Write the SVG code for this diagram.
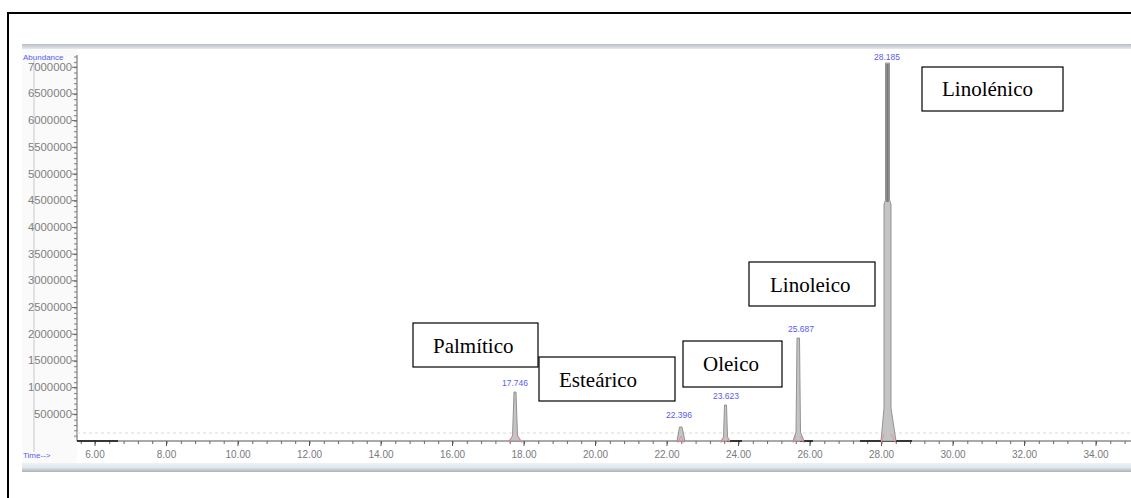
<svg xmlns="http://www.w3.org/2000/svg" width="1131" height="498" viewBox="0 0 1131 498">
<defs>
<style>
.ylab{font-family:"Liberation Sans",Arial,sans-serif;font-size:10px;fill:#808080;text-anchor:end}
.xlab{font-family:"Liberation Sans",Arial,sans-serif;font-size:10px;fill:#7a7a7a;text-anchor:middle}
.plab{font-family:"Liberation Sans",Arial,sans-serif;font-size:8.5px;fill:#5b5bf0;text-anchor:middle}
.blue{font-family:"Liberation Sans",Arial,sans-serif;font-size:8px;fill:#5b5bf0}
.box rect{fill:#fff;stroke:#000;stroke-width:1.2}
.box text{font-family:"Liberation Serif","Times New Roman",serif;font-size:21px;fill:#000}
.peak{fill:#c4c4c4;stroke:#8a8a8a;stroke-width:0.9}
.integ{fill:none;stroke:#f08a9a;stroke-width:0.9}
</style>
<pattern id="xminor" patternUnits="userSpaceOnUse" x="95" y="0" width="14.3" height="10">
<rect x="0" y="0" width="1" height="10" fill="#666"/>
</pattern>
<pattern id="yminor" patternUnits="userSpaceOnUse" x="0" y="441" width="10" height="5.34">
<rect x="0" y="0" width="10" height="1" fill="#777"/>
</pattern>
<linearGradient id="topbar" x1="0" y1="0" x2="0" y2="1">
<stop offset="0" stop-color="#b9bec4"/>
<stop offset="1" stop-color="#e6e9ec"/>
</linearGradient>
<linearGradient id="botbar" x1="0" y1="0" x2="0" y2="1">
<stop offset="0" stop-color="#eef2f6"/>
<stop offset="0.5" stop-color="#dfe6ec"/>
<stop offset="1" stop-color="#a9b1b9"/>
</linearGradient>
</defs>

<!-- outer frame -->
<path d="M8,498 V13 H1131" fill="none" stroke="#000" stroke-width="2"/>

<g id="chart">
<rect x="22" y="49" width="1109" height="418" fill="#fff"/>
<rect x="22" y="49" width="55" height="418" fill="#fafafa"/>
<rect x="22" y="44" width="1109" height="5" fill="url(#topbar)"/>
<rect x="22" y="463" width="1109" height="9" fill="url(#botbar)"/>

<line x1="34" y1="60" x2="34" y2="452" stroke="#c8c8c8" stroke-width="1"/>

<!-- Y axis -->
<line x1="77" y1="55" x2="77" y2="441" stroke="#666" stroke-width="1"/>
<rect x="74" y="55" width="3" height="386" fill="url(#yminor)"/>
<path d="M72,67.2 H77 M72,93.9 H77 M72,120.6 H77 M72,147.3 H77 M72,174 H77 M72,200.7 H77 M72,227.4 H77 M72,254.1 H77 M72,280.8 H77 M72,307.5 H77 M72,334.2 H77 M72,360.9 H77 M72,387.6 H77 M72,414.3 H77" stroke="#666" stroke-width="1"/>
<text class="ylab" x="72" y="70.7" textLength="44" lengthAdjust="spacingAndGlyphs">7000000</text>
<text class="ylab" x="72" y="97.4" textLength="44" lengthAdjust="spacingAndGlyphs">6500000</text>
<text class="ylab" x="72" y="124.1" textLength="44" lengthAdjust="spacingAndGlyphs">6000000</text>
<text class="ylab" x="72" y="150.8" textLength="44" lengthAdjust="spacingAndGlyphs">5500000</text>
<text class="ylab" x="72" y="177.5" textLength="44" lengthAdjust="spacingAndGlyphs">5000000</text>
<text class="ylab" x="72" y="204.2" textLength="44" lengthAdjust="spacingAndGlyphs">4500000</text>
<text class="ylab" x="72" y="230.9" textLength="44" lengthAdjust="spacingAndGlyphs">4000000</text>
<text class="ylab" x="72" y="257.6" textLength="44" lengthAdjust="spacingAndGlyphs">3500000</text>
<text class="ylab" x="72" y="284.3" textLength="44" lengthAdjust="spacingAndGlyphs">3000000</text>
<text class="ylab" x="72" y="311" textLength="44" lengthAdjust="spacingAndGlyphs">2500000</text>
<text class="ylab" x="72" y="337.7" textLength="44" lengthAdjust="spacingAndGlyphs">2000000</text>
<text class="ylab" x="72" y="364.4" textLength="44" lengthAdjust="spacingAndGlyphs">1500000</text>
<text class="ylab" x="72" y="391.1" textLength="44" lengthAdjust="spacingAndGlyphs">1000000</text>
<text class="ylab" x="72" y="417.8" textLength="38" lengthAdjust="spacingAndGlyphs">500000</text>
<text class="blue" x="23" y="60">Abundance</text>

<line x1="77" y1="433" x2="1131" y2="433" stroke="#dadada" stroke-width="1" stroke-dasharray="3,3"/>

<!-- X axis -->
<line x1="77" y1="441" x2="1131" y2="441" stroke="#555" stroke-width="1"/>
<rect x="77" y="441" width="1054" height="3" fill="url(#xminor)"/>
<path d="M95,441 v5 M166.5,441 v5 M238,441 v5 M309.5,441 v5 M381,441 v5 M452.5,441 v5 M524,441 v5 M595.5,441 v5 M667,441 v5 M738.5,441 v5 M810,441 v5 M881.5,441 v5 M953,441 v5 M1024.5,441 v5 M1096,441 v5" stroke="#555" stroke-width="1"/>
<text class="xlab" x="95" y="458">6.00</text>
<text class="xlab" x="166.5" y="458">8.00</text>
<text class="xlab" x="238" y="458">10.00</text>
<text class="xlab" x="309.5" y="458">12.00</text>
<text class="xlab" x="381" y="458">14.00</text>
<text class="xlab" x="452.5" y="458">16.00</text>
<text class="xlab" x="524" y="458">18.00</text>
<text class="xlab" x="595.5" y="458">20.00</text>
<text class="xlab" x="667" y="458">22.00</text>
<text class="xlab" x="738.5" y="458">24.00</text>
<text class="xlab" x="810" y="458">26.00</text>
<text class="xlab" x="881.5" y="458">28.00</text>
<text class="xlab" x="953" y="458">30.00</text>
<text class="xlab" x="1024.5" y="458">32.00</text>
<text class="xlab" x="1096" y="458">34.00</text>
<text class="blue" x="23" y="458">Time--&gt;</text>

<path d="M77,441 H118 M727,441 H742 M800,441 H813 M860,441 H912" stroke="#111" stroke-width="1.6"/>

<!-- peaks -->
<path class="peak" d="M509,441 L512.5,436 L514,392 L516,392 L517.5,436 L521,441 Z"/>
<path class="peak" d="M677,441 L679.5,427 L682,427 L685,441 Z"/>
<path class="peak" d="M721,441 L723.5,437 L724.5,405 L726.5,405 L727.5,437 L730,441 Z"/>
<path class="peak" d="M793,441 L796,432 L797,338 L799.5,338 L800.5,432 L804,441 Z"/>
<path class="peak" d="M881,441 L884,408 L884,204 L885.5,200 L885.5,63 L889.5,63 L889.5,200 L891,204 L891,408 L896,441 Z"/>
<line x1="887.5" y1="64" x2="887.5" y2="202" stroke="#7a7a7a" stroke-width="2.5"/>

<!-- integration markers -->
<path class="integ" d="M509,443 L513,434 M517,434 L522,443"/>
<path class="integ" d="M678,443 L681,436 L684,443"/>
<path class="integ" d="M721,443 L724,436 M727,436 L730,443"/>
<path class="integ" d="M793,443 L796,436 M800,436 L804,443"/>
<path class="integ" d="M881,443 L884,434 M891,434 L896,443"/>

<!-- peak labels -->
<text class="plab" x="515" y="386">17.746</text>
<text class="plab" x="679" y="418">22.396</text>
<text class="plab" x="726" y="399">23.623</text>
<text class="plab" x="801" y="332">25.687</text>
<text class="plab" x="887" y="60">28.185</text>
</g>

<g id="palmitico" class="box">
<rect x="413" y="323" width="125" height="44"/>
<text x="433" y="353">Palmítico</text>
</g>
<g id="estearico" class="box">
<rect x="539" y="357" width="136" height="44"/>
<text x="559" y="387">Esteárico</text>
</g>
<g id="oleico" class="box">
<rect x="683" y="341" width="99" height="46"/>
<text x="703" y="371">Oleico</text>
</g>
<g id="linoleico" class="box">
<rect x="749" y="262" width="126" height="44"/>
<text x="770" y="292">Linoleico</text>
</g>
<g id="linolenico" class="box">
<rect x="922" y="67" width="141" height="44"/>
<text x="942" y="96">Linolénico</text>
</g>

<g id="connectors"></g>
</svg>
